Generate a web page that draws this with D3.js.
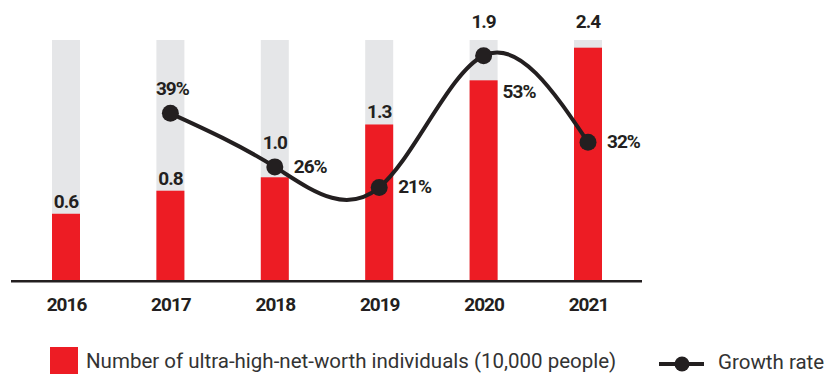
<!DOCTYPE html>
<html>
<head>
<meta charset="utf-8">
<script src="https://cdn.jsdelivr.net/npm/d3@7"></script>
<style>
  body { margin: 0; background: #fff; }
  svg { display: block; font-family: Roboto, "Noto Sans", sans-serif; }
</style>
</head>
<body>
<svg width="830" height="374"></svg>
<script>
var years = ["2016", "2017", "2018", "2019", "2020", "2021"];
// bar heights (10,000 people)
var people = [0.69, 0.93, 1.07, 1.62, 2.08, 2.42];
var peopleLabels = ["0.6", "0.8", "1.0", "1.3", "1.9", "2.4"];
var rateYears = ["2017", "2018", "2019", "2020", "2021"];
var rates = [39, 26, 21, 53, 32];
var rateLabels = ["39%", "26%", "21%", "53%", "32%"];

var red = "#ed1c24", grey = "#e5e6e8", ink = "#231f20";

var svg = d3.select("svg");

var x = d3.scalePoint().domain(years).range([66, 588]);
var y = d3.scaleLinear().domain([0, 2.5]).range([280, 40]);
var yRate = d3.scaleLinear().domain([0, 55]).range([274, 47.4]);
var barW = 28;

// grey background columns
svg.append("g").selectAll("rect")
    .data(years)
  .enter().append("rect")
    .attr("x", function(d) { return x(d) - barW / 2; })
    .attr("y", y(2.5))
    .attr("width", barW)
    .attr("height", y(0) - y(2.5))
    .style("fill", grey);

// red bars
svg.append("g").selectAll("rect")
    .data(people)
  .enter().append("rect")
    .attr("x", function(d, i) { return x(years[i]) - barW / 2; })
    .attr("y", function(d) { return y(d); })
    .attr("width", barW)
    .attr("height", function(d) { return y(0) - y(d); })
    .style("fill", red);

// x axis
var axis = svg.append("g")
    .attr("transform", "translate(0," + 281.3 + ")")
    .call(d3.axisBottom(x).tickSize(0).tickPadding(15));
axis.select(".domain").remove();
axis.append("line")
    .attr("x1", 11).attr("x2", 642)
    .style("stroke", ink)
    .style("stroke-width", 2.6);
axis.selectAll(".tick text")
    .style("font-family", "Roboto, sans-serif")
    .style("font-size", "19px")
    .style("font-weight", "bold")
    .style("letter-spacing", "-1px")
    .style("fill", ink)
    .attr("dy", 0).attr("y", 29.4);

// growth line
var pts = rates.map(function(v, i) { return [x(rateYears[i]), yRate(v)]; });

svg.append("path")
    .datum(pts)
    .attr("d", d3.line().curve(d3.curveNatural))
    .style("fill", "none")
    .style("stroke", ink)
    .style("stroke-width", 4);

svg.append("g").selectAll("circle")
    .data(pts)
  .enter().append("circle")
    .attr("cx", function(d) { return d[0]; })
    .attr("cy", function(d) { return d[1]; })
    .attr("r", 8.5)
    .style("fill", ink);

// value labels over the bars, pushed up clear of the dot or the column top
function labelBase(i) {
  var top = y(people[i]);
  var j = rateYears.indexOf(years[i]);
  if (j >= 0) {
    var dy = yRate(rates[j]);
    if (dy < top && top - dy < 30) return top < 90 ? y(2.5) - 12 : dy - 18;
  }
  if (top < 90) return y(2.5) - 12;
  return top - 6;
}

var labelStyle = function(sel) {
  sel.style("font-size", "19px")
    .style("font-weight", "bold")
    .style("letter-spacing", "-1px")
    .style("fill", ink);
};

svg.append("g").selectAll("text")
    .data(peopleLabels)
  .enter().append("text")
    .attr("x", function(d, i) { return x(years[i]); })
    .attr("y", function(d, i) { return labelBase(i); })
    .attr("text-anchor", "middle")
    .text(function(d) { return d; })
    .call(labelStyle);

var maxRate = d3.max(rates);
svg.append("g").selectAll("text")
    .data(rateLabels)
  .enter().append("text")
    .attr("x", function(d, i) { return i == 0 ? pts[i][0] + 2 : pts[i][0] + 19; })
    .attr("y", function(d, i) {
      if (i == 0) return pts[i][1] - 18;
      if (rates[i] == maxRate) return pts[i][1] + 42;
      return pts[i][1] + 6;
    })
    .attr("text-anchor", function(d, i) { return i == 0 ? "middle" : "start"; })
    .text(function(d) { return d; })
    .call(labelStyle);

// legend
var legend = svg.append("g");
legend.append("rect")
    .attr("x", 50).attr("y", 347)
    .attr("width", 28).attr("height", 27)
    .style("fill", red);
legend.append("text")
    .attr("x", 86).attr("y", 368)
    .style("font-size", "20.5px")
    .style("fill", "#333")
    .text("Number of ultra-high-net-worth individuals (10,000 people)");

legend.append("line")
    .attr("x1", 659).attr("x2", 704)
    .attr("y1", 364).attr("y2", 364)
    .style("stroke", ink)
    .style("stroke-width", 4);
legend.append("circle")
    .attr("cx", 682).attr("cy", 364).attr("r", 7.5)
    .style("fill", ink);
legend.append("text")
    .attr("x", 718).attr("y", 368.5)
    .style("font-size", "20.5px")
    .style("fill", "#333")
    .text("Growth rate");
</script>
</body>
</html>
